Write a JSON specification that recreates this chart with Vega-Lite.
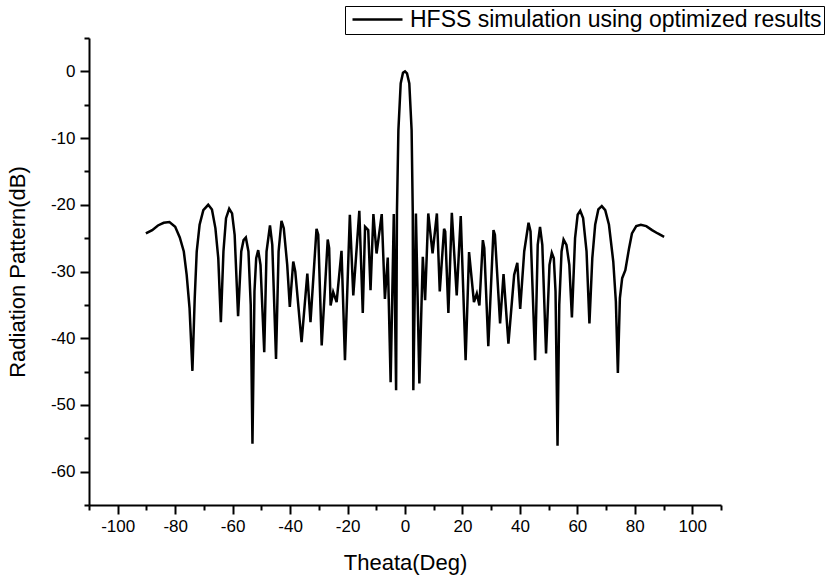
{
  "$schema": "https://vega.github.io/schema/vega-lite/v6.json",
  "width": 632,
  "height": 467,
  "autosize": {"type": "none"},
  "padding": {"left": 89, "top": 38, "right": 105, "bottom": 74},
  "background": "white",
  "config": {
    "view": {"stroke": null},
    "font": "Liberation Sans",
    "axis": {
      "domainColor": "black",
      "domainWidth": 2,
      "tickColor": "black",
      "tickWidth": 2,
      "labelColor": "black",
      "titleColor": "black",
      "labelFont": "Liberation Sans",
      "titleFont": "Liberation Sans",
      "labelFontSize": 17,
      "titleFontSize": 22,
      "titleFontWeight": "normal",
      "grid": false
    }
  },
  "data": {
    "values": [
      {"theta": -90.2, "db": -24.3}, {"theta": -88, "db": -23.8}, {"theta": -86, "db": -23.1},
      {"theta": -84, "db": -22.7}, {"theta": -82, "db": -22.6}, {"theta": -80, "db": -23.3},
      {"theta": -78.4, "db": -24.9}, {"theta": -77, "db": -27}, {"theta": -76, "db": -30.5},
      {"theta": -75, "db": -35.5}, {"theta": -74, "db": -44.9}, {"theta": -73.2, "db": -34},
      {"theta": -72.5, "db": -27}, {"theta": -71.5, "db": -23}, {"theta": -70.2, "db": -20.8},
      {"theta": -68.5, "db": -20.0}, {"theta": -67.2, "db": -20.7}, {"theta": -66, "db": -23.5},
      {"theta": -65, "db": -28}, {"theta": -64.1, "db": -37.6}, {"theta": -63.2, "db": -27},
      {"theta": -62.3, "db": -22}, {"theta": -61.2, "db": -20.6}, {"theta": -60.2, "db": -21.3},
      {"theta": -59.3, "db": -24.5}, {"theta": -58.1, "db": -36.7}, {"theta": -57, "db": -27},
      {"theta": -56.2, "db": -25.3}, {"theta": -55.4, "db": -24.9}, {"theta": -54.5, "db": -27},
      {"theta": -53.7, "db": -35}, {"theta": -53.1, "db": -55.8}, {"theta": -52.4, "db": -33},
      {"theta": -51.8, "db": -28}, {"theta": -51.1, "db": -26.8}, {"theta": -50.3, "db": -29},
      {"theta": -49.0, "db": -42.1}, {"theta": -48.2, "db": -27}, {"theta": -47.0, "db": -23.1},
      {"theta": -46.2, "db": -26}, {"theta": -44.9, "db": -43.1}, {"theta": -44, "db": -27},
      {"theta": -43.0, "db": -22.4}, {"theta": -42.2, "db": -23.5}, {"theta": -41, "db": -29},
      {"theta": -40.1, "db": -35.3}, {"theta": -38.9, "db": -28.5}, {"theta": -38.2, "db": -30},
      {"theta": -36.0, "db": -40.6}, {"theta": -34.0, "db": -30.3}, {"theta": -32.9, "db": -37.6},
      {"theta": -30.8, "db": -23.6}, {"theta": -30.2, "db": -24.5}, {"theta": -29.0, "db": -41.1},
      {"theta": -26.9, "db": -25.2}, {"theta": -26.4, "db": -26.5}, {"theta": -25.9, "db": -35.1},
      {"theta": -25.0, "db": -33.1}, {"theta": -23.8, "db": -34.6}, {"theta": -22.1, "db": -26.9},
      {"theta": -20.9, "db": -43.3}, {"theta": -19.2, "db": -21.5}, {"theta": -18.0, "db": -33.6},
      {"theta": -15.9, "db": -20.9}, {"theta": -14.7, "db": -36.2}, {"theta": -13.9, "db": -23.3},
      {"theta": -12.8, "db": -23.8}, {"theta": -12.0, "db": -32.8}, {"theta": -11.0, "db": -21.4},
      {"theta": -9.9, "db": -27.3}, {"theta": -8.1, "db": -21.4}, {"theta": -7.0, "db": -34.1},
      {"theta": -6.0, "db": -27.9}, {"theta": -5.0, "db": -46.6}, {"theta": -3.9, "db": -21.4},
      {"theta": -3.1, "db": -47.8}, {"theta": -2.8, "db": -21}, {"theta": -2.3, "db": -8.8},
      {"theta": -1.5, "db": -1.8}, {"theta": -0.7, "db": -0.2}, {"theta": 0, "db": 0},
      {"theta": 0.7, "db": -0.3}, {"theta": 1.5, "db": -1.8}, {"theta": 2.3, "db": -8.8},
      {"theta": 2.7, "db": -21}, {"theta": 2.9, "db": -47.8}, {"theta": 3.8, "db": -21.3},
      {"theta": 5.0, "db": -46.8}, {"theta": 6.2, "db": -27.8}, {"theta": 7.0, "db": -34.3},
      {"theta": 8.1, "db": -21.3}, {"theta": 9.6, "db": -27.3}, {"theta": 11.1, "db": -21.3},
      {"theta": 12.1, "db": -33}, {"theta": 13.6, "db": -23.6}, {"theta": 14.0, "db": -24},
      {"theta": 15.1, "db": -36.2}, {"theta": 16.3, "db": -21.2}, {"theta": 18.0, "db": -33.6},
      {"theta": 19.4, "db": -21.7}, {"theta": 21.1, "db": -43.3}, {"theta": 22.3, "db": -27.1},
      {"theta": 24.0, "db": -34.6}, {"theta": 25.0, "db": -33.3}, {"theta": 25.9, "db": -35.1},
      {"theta": 27.1, "db": -25.3}, {"theta": 27.6, "db": -26.5}, {"theta": 29.0, "db": -41.2},
      {"theta": 30.8, "db": -23.8}, {"theta": 31.3, "db": -24.5}, {"theta": 33.1, "db": -37.8},
      {"theta": 34.3, "db": -30.4}, {"theta": 36.0, "db": -40.8}, {"theta": 38.0, "db": -30.5},
      {"theta": 39.1, "db": -28.7}, {"theta": 40.1, "db": -35.6}, {"theta": 41.5, "db": -27},
      {"theta": 43.0, "db": -22.7}, {"theta": 43.7, "db": -24}, {"theta": 45.3, "db": -43.3},
      {"theta": 46.2, "db": -26}, {"theta": 47.0, "db": -23.3}, {"theta": 47.8, "db": -26},
      {"theta": 49.1, "db": -42.3}, {"theta": 50.3, "db": -29}, {"theta": 51.1, "db": -27.2},
      {"theta": 51.8, "db": -28}, {"theta": 52.4, "db": -33}, {"theta": 53.1, "db": -56.1},
      {"theta": 53.7, "db": -35}, {"theta": 54.5, "db": -27}, {"theta": 55.2, "db": -25.2},
      {"theta": 56.2, "db": -26}, {"theta": 57.2, "db": -29}, {"theta": 58.1, "db": -36.9},
      {"theta": 59.2, "db": -25}, {"theta": 60.1, "db": -21.5}, {"theta": 61.0, "db": -20.9},
      {"theta": 62.0, "db": -22}, {"theta": 63.2, "db": -27}, {"theta": 64.2, "db": -37.8},
      {"theta": 65.2, "db": -28}, {"theta": 66.2, "db": -23}, {"theta": 67.3, "db": -20.7},
      {"theta": 68.5, "db": -20.2}, {"theta": 69.7, "db": -20.8}, {"theta": 71, "db": -23},
      {"theta": 72.5, "db": -28.5}, {"theta": 73.4, "db": -34.5}, {"theta": 74.1, "db": -45.2},
      {"theta": 74.8, "db": -34}, {"theta": 75.6, "db": -31}, {"theta": 76.7, "db": -29.8},
      {"theta": 78, "db": -26.5}, {"theta": 79, "db": -24.3}, {"theta": 80.5, "db": -23.2},
      {"theta": 82.1, "db": -23.0}, {"theta": 84, "db": -23.2}, {"theta": 86, "db": -23.8},
      {"theta": 88, "db": -24.3}, {"theta": 90.2, "db": -24.8}
    ]
  },
  "transform": [{"calculate": "'HFSS simulation using optimized results'", "as": "series"}],
  "mark": {"type": "line", "strokeWidth": 2.5, "interpolate": "linear"},
  "encoding": {
    "x": {
      "field": "theta", "type": "quantitative",
      "scale": {"domain": [-110, 110], "nice": false, "zero": false},
      "axis": {
        "title": "Theata(Deg)",
        "values": [-110, -100, -90, -80, -70, -60, -50, -40, -30, -20, -10, 0, 10, 20, 30, 40, 50, 60, 70, 80, 90, 100, 110],
        "labelExpr": "datum.value % 20 === 0 ? '' + datum.value : ''",
        "tickSize": {"condition": {"test": "datum.value % 20 === 0", "value": 9}, "value": 5},
        "labelPadding": 4,
        "titlePadding": 18,
        "labelFlush": false
      }
    },
    "y": {
      "field": "db", "type": "quantitative",
      "scale": {"domain": [-65, 5], "nice": false, "zero": false},
      "axis": {
        "title": "Radiation Pattern(dB)",
        "values": [-65, -60, -55, -50, -45, -40, -35, -30, -25, -20, -15, -10, -5, 0, 5],
        "labelExpr": "datum.value % 10 === 0 ? '' + datum.value : ''",
        "tickSize": {"condition": {"test": "datum.value % 10 === 0", "value": 9}, "value": 5},
        "labelPadding": 5,
        "titlePadding": 21,
        "labelFlush": false
      }
    },
    "color": {
      "field": "series", "type": "nominal",
      "scale": {"range": ["black"]},
      "legend": {
        "title": null,
        "orient": "none",
        "legendX": 256,
        "legendY": -32,
        "direction": "vertical",
        "symbolType": "M-1,0H4",
        "symbolSize": 400,
        "symbolStrokeWidth": 2.5,
        "labelFontSize": 23,
        "labelFont": "Liberation Sans",
        "labelColor": "black",
        "labelLimit": 0,
        "labelOffset": 36,
        "strokeColor": "black",
        "fillColor": "white",
        "padding": 2,
        "symbolOffset": 4
      }
    }
  }
}
